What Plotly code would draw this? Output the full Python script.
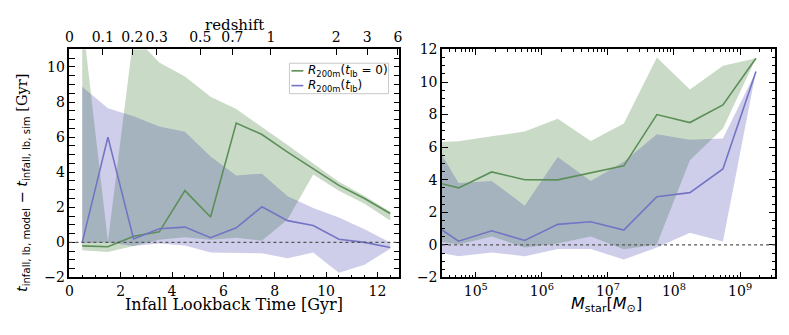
import plotly.graph_objects as go

# --- left panel: residual vs infall lookback time ---
t_lb = [0.5, 1.5, 2.5, 3.5, 4.5, 5.5, 6.5, 7.5, 8.5, 9.5, 10.5, 11.5, 12.5]
g_med_t = [-0.2, -0.25, 0.35, 0.6, 2.95, 1.45, 6.8, 6.15, 5.15, 4.2, 3.25, 2.5, 1.65]
g_hi_t = [12.8, 0.05, 11.8, 10.25, 9.45, 8.3, 7.6, 6.6, 5.55, 4.5, 3.45, 2.65, 1.75]
g_lo_t = [-0.45, -0.55, -0.2, 0.15, 0.3, 0.15, 0.27, 0.1, 1.3, 3.87, 2.95, 2.2, 1.25]
b_med_t = [0.0, 6.0, 0.2, 0.78, 0.87, 0.27, 0.83, 2.03, 1.24, 0.96, 0.18, 0.0, -0.29]
b_hi_t = [8.87, 7.65, 7.19, 6.6, 6.3, 4.9, 3.81, 3.92, 2.63, 1.96, 1.42, 0.75, 0.0]
b_lo_t = [-0.05, 0.0, -0.2, -0.07, -0.18, -0.58, -0.58, -0.62, -0.91, -0.58, -1.73, -1.27, -0.36]

# redshift labels on the top axis and their lookback times [Gyr]
z_labels = ["0", "0.1", "0.2", "0.3", "0.5", "0.7", "1", "2", "3", "6"]
z_lookback = [0.0, 1.3, 2.45, 3.4, 5.1, 6.35, 7.85, 10.4, 11.6, 12.8]

# --- right panel: residual vs stellar mass ---
mstar = [1.74e4, 5.5e4, 1.74e5, 5.5e5, 1.74e6, 5.5e6, 1.74e7, 5.5e7, 1.74e8, 5.5e8, 1.74e9]
g_med_m = [4.0, 3.5, 4.48, 4.0, 3.99, 4.43, 4.85, 8.0, 7.51, 8.59, 11.46]
g_hi_m = [6.28, 6.36, 6.67, 6.96, 7.74, 6.38, 7.45, 11.5, 9.54, 11.0, 11.46]
g_lo_m = [0.31, 0.03, 0.52, -0.16, 0.09, 0.52, -0.26, 0.03, 5.2, 7.15, 11.46]
b_med_m = [1.6, 0.23, 0.87, 0.27, 1.26, 1.42, 0.91, 2.96, 3.21, 4.66, 10.64]
b_hi_m = [7.2, 3.8, 3.93, 2.41, 5.4, 3.93, 5.1, 6.8, 6.45, 6.53, 10.64]
b_lo_m = [-0.3, -0.7, -0.46, -0.7, -0.25, -0.25, -0.9, -0.16, 0.75, 0.21, 10.64]

GREEN_LINE = "#5c8f58"
BLUE_LINE = "#7474c4"
GREEN_FILL = "rgba(70,130,60,0.29)"
BLUE_FILL = "rgba(60,60,170,0.25)"

SERIF = "DejaVu Serif"
SANS = "DejaVu Sans"

fig = go.Figure()


def band(x, lo, hi, color, xa, ya):
    fig.add_trace(go.Scatter(
        x=list(x) + list(x)[::-1], y=list(hi) + list(lo)[::-1],
        fill="toself", fillcolor=color, line=dict(width=0),
        mode="lines", showlegend=False, hoverinfo="skip", xaxis=xa, yaxis=ya))


band(t_lb, g_lo_t, g_hi_t, GREEN_FILL, "x", "y")
band(t_lb, b_lo_t, b_hi_t, BLUE_FILL, "x", "y")
band(mstar, g_lo_m, g_hi_m, GREEN_FILL, "x2", "y2")
band(mstar, b_lo_m, b_hi_m, BLUE_FILL, "x2", "y2")

lbl_g = "<i>R</i><sub>200m</sub>(<i>t</i><sub>lb</sub> = 0)"
lbl_b = "<i>R</i><sub>200m</sub>(<i>t</i><sub>lb</sub>)"

fig.add_trace(go.Scatter(x=t_lb, y=g_med_t, mode="lines", name=lbl_g, showlegend=False,
                         line=dict(color=GREEN_LINE, width=1.6), xaxis="x", yaxis="y"))
fig.add_trace(go.Scatter(x=t_lb, y=b_med_t, mode="lines", name=lbl_b, showlegend=False,
                         line=dict(color=BLUE_LINE, width=1.6), xaxis="x", yaxis="y"))
fig.add_trace(go.Scatter(x=mstar, y=g_med_m, mode="lines", showlegend=False,
                         line=dict(color=GREEN_LINE, width=1.6), xaxis="x2", yaxis="y2"))
fig.add_trace(go.Scatter(x=mstar, y=b_med_m, mode="lines", showlegend=False,
                         line=dict(color=BLUE_LINE, width=1.6), xaxis="x2", yaxis="y2"))

# dummy trace so the redshift axis is drawn
fig.add_trace(go.Scatter(x=[None], y=[None], xaxis="x3", yaxis="y", showlegend=False))

tickfont = dict(family=SERIF, size=14, color="black")
common = dict(showline=True, linecolor="black", linewidth=1.5, ticks="inside",
              ticklen=6, tickwidth=1, tickcolor="black", showgrid=False,
              zeroline=False, tickfont=tickfont)

W, H = 789, 335
XL = [66 / W, 399 / W]
XR = [442 / W, 778 / W]
YD = [1 - 283 / H, 1 - 43.5 / H]

fig.update_layout(
    width=W, height=H,
    margin=dict(l=0, r=0, t=0, b=0),
    paper_bgcolor="white", plot_bgcolor="white",
    xaxis=dict(domain=XL, range=[0, 12.86], anchor="y", tickvals=[0, 2, 4, 6, 8, 10, 12],
               minor=dict(ticks="inside", ticklen=3, dtick=0.5, tickcolor="black"),
               **common),
    yaxis=dict(domain=YD, range=[-2, 11], anchor="x", tickvals=[-2, 0, 2, 4, 6, 8, 10],
               mirror="allticks",
               minor=dict(ticks="inside", ticklen=3, dtick=0.5, tickcolor="black"),
               **common),
    xaxis3=dict(domain=XL, range=[0, 12.86], overlaying="x", side="top", anchor="y",
                tickvals=z_lookback, ticktext=z_labels, **common),
    xaxis2=dict(domain=XR, type="log", range=[4.49, 9.53], anchor="y2", mirror="allticks",
                tickvals=[1e5, 1e6, 1e7, 1e8, 1e9],
                ticktext=["10<sup>5</sup>", "10<sup>6</sup>", "10<sup>7</sup>",
                          "10<sup>8</sup>", "10<sup>9</sup>"],
                minor=dict(ticks="inside", ticklen=3, dtick="D1", tickcolor="black"),
                **common),
    yaxis2=dict(domain=YD, range=[-2, 12], anchor="x2", mirror="allticks",
                tickvals=[-2, 0, 2, 4, 6, 8, 10, 12],
                minor=dict(ticks="inside", ticklen=3, dtick=0.5, tickcolor="black"),
                **common),
    showlegend=False,
)

# dotted zero lines
for xr, yr in (("x", "y"), ("x2", "y2")):
    fig.add_shape(type="line", xref=xr + " domain", yref=yr, x0=0, x1=1, y0=0, y1=0,
                  line=dict(color="#555555", width=1.3, dash="dot"))

# legend drawn by hand (matplotlib-style compact box)
fig.add_shape(type="rect", xref="paper", yref="paper",
              x0=288 / W, x1=388 / W, y0=1 - 90 / H, y1=1 - 58 / H,
              line=dict(color="#c8c8c8", width=1), fillcolor="rgba(255,255,255,0.8)")
for (lbl, col, ypx) in ((lbl_g, GREEN_LINE, 66), (lbl_b, BLUE_LINE, 81.5)):
    fig.add_shape(type="line", xref="paper", yref="paper",
                  x0=290 / W, x1=302 / W, y0=1 - ypx / H, y1=1 - ypx / H,
                  line=dict(color=col, width=1.6))
    fig.add_annotation(text=lbl, xref="paper", yref="paper", x=305 / W, y=1 - ypx / H,
                       xanchor="left", yanchor="middle", showarrow=False,
                       font=dict(family=SANS, size=12, color="black"))

# axis titles as annotations
ann = dict(xref="paper", yref="paper", showarrow=False, xanchor="center", yanchor="middle")
fig.add_annotation(text="Infall Lookback Time [Gyr]", x=232 / W, y=1 - 311 / H,
                   font=dict(family=SERIF, size=16, color="black"), **ann)
fig.add_annotation(text="redshift", x=233 / W, y=1 - 18 / H,
                   font=dict(family=SERIF, size=15, color="black"), **ann)
fig.add_annotation(text="<i>M</i><sub>star</sub>[<i>M</i><sub>⊙</sub>]",
                   x=608 / W, y=1 - 311 / H,
                   font=dict(family=SANS, size=16, color="black"), **ann)
fig.add_annotation(text="<i>t</i><sub>infall, lb, model</sub> − <i>t</i><sub>infall, lb, sim</sub> <span style='font-family:DejaVu Serif'>[Gyr]</span>",
                   x=19 / W, y=1 - 184 / H, textangle=-90,
                   font=dict(family=SANS, size=14.5, color="black"), **ann)

fig.write_html("out.html", config={"displayModeBar": False},
               post_script="document.body.style.margin='0';document.body.style.overflow='hidden';")
